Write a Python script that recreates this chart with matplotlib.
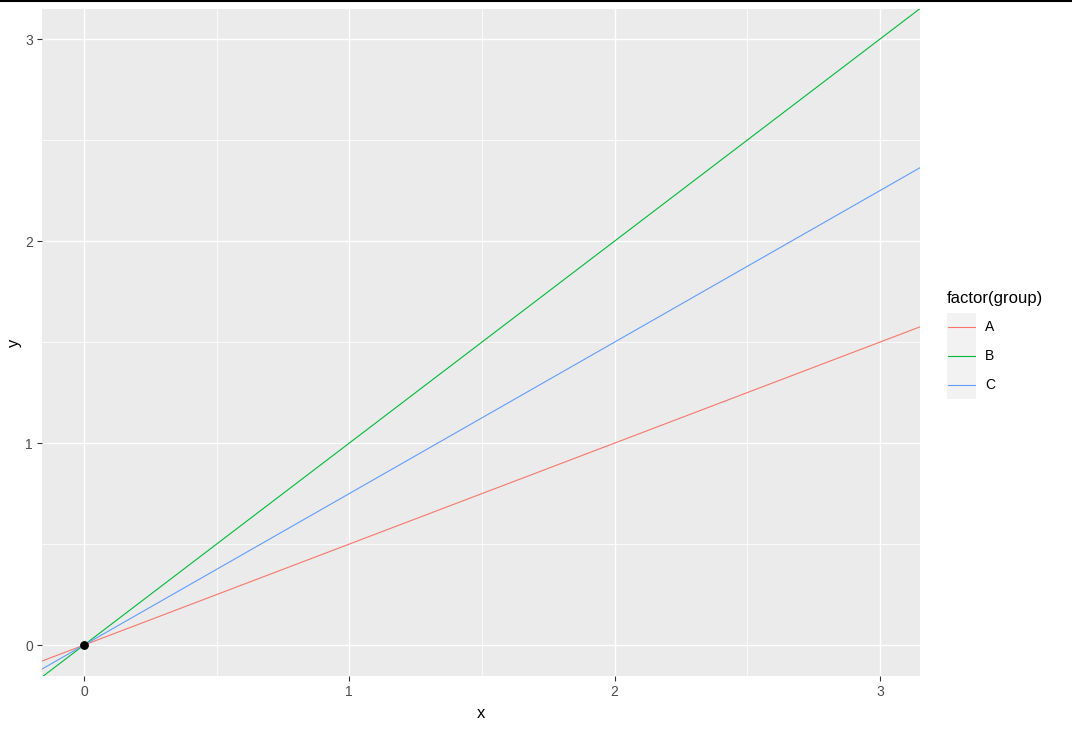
import matplotlib.pyplot as plt
from matplotlib.lines import Line2D
from matplotlib.patches import Rectangle
from matplotlib.ticker import MultipleLocator

plt.rcParams['font.family'] = ['Liberation Sans', 'DejaVu Sans']

# groups and their slopes (lines through the origin)
groups = ["A", "B", "C"]
slopes = [0.5, 1.0, 0.75]
colors = ["#F8766D", "#00BA38", "#619CFF"]
pt_x = [0]
pt_y = [0]

W, H = 1072, 731
fig = plt.figure(figsize=(W / 100, H / 100), dpi=100)
fig.patch.set_facecolor("white")

# panel placement in pixels
left, right, top, bottom = 42, 920, 9, 676
ax = fig.add_axes([left / W, 1 - bottom / H, (right - left) / W, (bottom - top) / H])
ax.set_facecolor("#EBEBEB")
for s in ax.spines.values():
    s.set_visible(False)

ax.set_xlim(-0.158, 3.151)
ax.set_ylim(-0.153, 3.149)
ax.xaxis.set_major_locator(MultipleLocator(1))
ax.yaxis.set_major_locator(MultipleLocator(1))
ax.xaxis.set_minor_locator(MultipleLocator(0.5))
ax.yaxis.set_minor_locator(MultipleLocator(0.5))
ax.grid(which="major", color="white", linewidth=1.0)
ax.grid(which="minor", color="white", linewidth=0.55)
ax.set_axisbelow(True)
ax.tick_params(which="major", length=3.5, width=0.8, color="#333333",
               labelsize=10, labelcolor="#4D4D4D", pad=3)
ax.tick_params(which="minor", length=0)

for g, s, c in zip(groups, slopes, colors):
    ax.axline((0, 0), slope=s, color=c, linewidth=0.8, label=g)

ax.scatter(pt_x, pt_y, s=28, color="black", zorder=5)

ax.set_xlabel("x", fontsize=12, color="black", labelpad=5)
ax.set_ylabel("y", fontsize=12, color="black", labelpad=2)

# legend drawn in figure pixels
fig.text(947 / W, 1 - 298 / H, "factor(group)", fontsize=12, va="center", ha="left")
fig.patches.append(Rectangle((947 / W, 1 - 399 / H), 29 / W, 86 / H,
                             transform=fig.transFigure, facecolor="#F2F2F2",
                             edgecolor="none"))
for i, (g, c) in enumerate(zip(groups, colors)):
    yy = 1 - (327 + 29 * i) / H
    fig.add_artist(Line2D([948 / W, 975 / W], [yy, yy], color=c, linewidth=0.8,
                          transform=fig.transFigure))
    fig.text(985 / W, yy, g, fontsize=10, va="center", ha="left")

# black strip along the top edge of the screenshot
fig.add_artist(Line2D([0, 1], [1 - 1 / H, 1 - 1 / H], color="black", linewidth=1.5,
                      transform=fig.transFigure))

fig.savefig("out.png", dpi=100)
